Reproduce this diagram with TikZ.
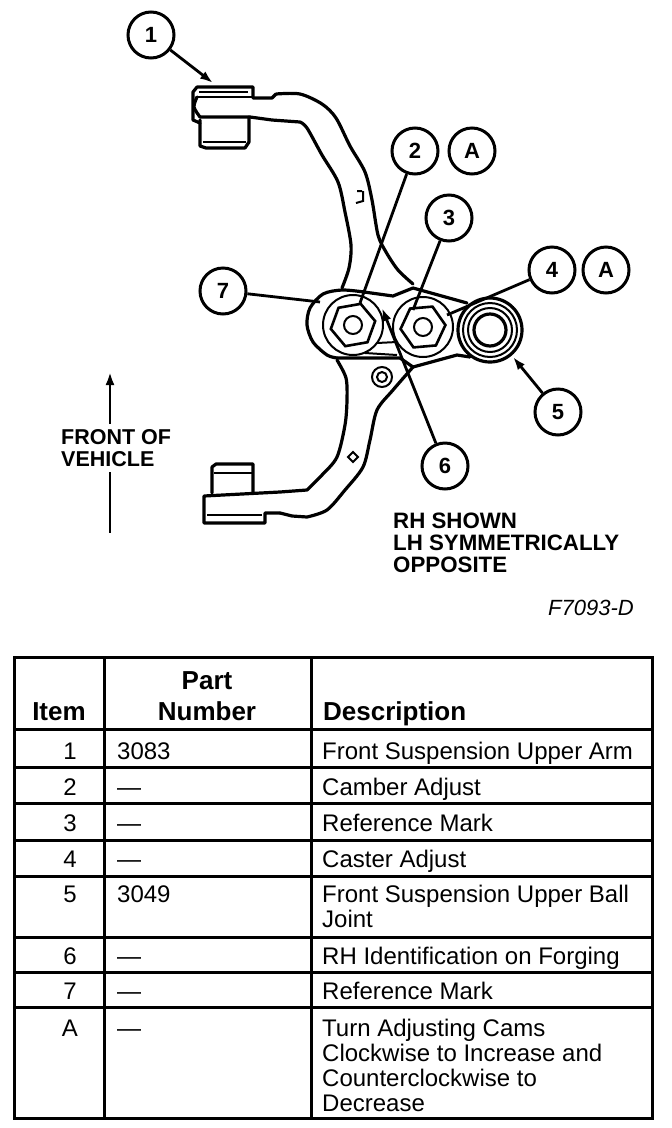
\documentclass[tikz,border=0pt]{standalone}
\usepackage{fontspec}
\setmainfont{Liberation Sans}
\usetikzlibrary{shapes.geometric,arrows.meta}
\tikzset{
  callout/.style={circle,draw,line width=3pt,minimum size=46pt,inner sep=0pt,font=\bfseries\fontsize{22}{22}\selectfont},
  leader/.style={line width=2.8pt},
  tipped/.style={leader,-{Latex[length=13pt,width=9pt]}},
  outline/.style={line width=3.2pt,line join=round,line cap=round},
  fine/.style={line width=2pt},
  hexnut/.style={regular polygon,regular polygon sides=6,draw,line width=2.6pt,minimum size=45pt,inner sep=0pt},
  rule/.style={line width=3pt,line cap=rect},
  cell/.style={anchor=base west,inner sep=0pt,font=\fontsize{24}{25}\selectfont},
  numcell/.style={anchor=base,inner sep=0pt,font=\fontsize{24}{25}\selectfont},
  headcell/.style={anchor=base,inner sep=0pt,font=\bfseries\fontsize{26}{30}\selectfont},
  caption/.style={anchor=base west,inner sep=0pt,font=\bfseries\fontsize{22.3}{22}\selectfont}
}
\begin{document}
\begin{tikzpicture}[x=1pt,y=-1pt]
  \useasboundingbox (0,0) rectangle (672,1128);

  % upper arm
  \draw[outline] (253,98) -- (272,98) -- (276,94) plot[smooth] coordinates {(276,94) (300,94) (322,104) (336,118) (350,146) (365,172) (372,200) (378,235) (386,252) (398,270) (413,284)};
  \draw[outline] plot[smooth] coordinates {(342,288) (349,268) (351,245) (345,212) (338,182) (322,155) (307,128) (300,122)} -- (272,120) -- (250,117) -- (200,117);
  \draw[outline] (253,97) -- (253,87) -- (197,87) -- (193,92) -- (193,120) -- (200,123);
  \draw[outline] plot[smooth] coordinates {(197,97) (194,107) (200,117)};
  \draw[fine] (199,92) -- (248,92) (197,97) -- (253,97);
  \draw[outline] (200,120) -- (200,146) -- (206,148) -- (245,148) -- (249,142) -- (249,117);
  \draw[fine] (203,142) -- (246,142);
  \draw[fine] (362,191) -- (357,191) (363,191) -- (363,201) -- (356,203);

  % plate
  \draw[outline] plot[smooth] coordinates {(364,292) (342,290) (323,294) (310,308) (307,325) (313,342) (327,355) (337,358)};
  \draw[outline] (337,358) -- (400,358) -- (413,367);
  \draw[fine] (365,353) -- (397,355) (377,343) -- (397,342);
  \draw[outline] (364,292) -- (393,296) -- (413,288) -- (467,303);
  \draw[outline] (413,367) -- (457,355) -- (470,357);
  \draw[fine] (353,325) circle (30pt) (423,327) circle (30pt);
  \node[hexnut,rotate=10] (nutL) at (353,325) {};
  \node[hexnut,rotate=5] (nutM) at (423,327) {};
  \draw[fine] (353,325) circle (9pt) (423,327) circle (9pt);

  % ball joint
  \draw[outline] (490,330) circle (32pt);
  \draw[fine] (490,330) circle (27pt) (490,330) circle (22pt);
  \draw[outline] (490,330) circle (16pt);

  % lower arm
  \draw[outline] plot[smooth] coordinates {(337,360) (346,378) (347,400) (345,425) (337,457) (322,475) (307,490)} -- (280,492) -- (204,496) -- (204,523) -- (265,523) -- (265,513) -- (280,513);
  \draw[outline] (280,513) -- (292,516) -- (307,517) plot[smooth] coordinates {(307,517) (327,510) (345,490) (363,467) (370,440) (377,410) (393,390) (413,367)};
  \draw[outline] (212,493) -- (212,467) -- (216,464) -- (253,464) -- (253,493);
  \draw[fine] (214,473) -- (252,473) (207,515) -- (262,515);
  \draw[fine] (382,377) circle (10pt) (382,377) circle (5pt);
  \draw[fine] (348,457) -- (353,452) -- (358,457) -- (353,462) -- cycle;

  % callouts
  \node[callout] (c1) at (151,35) {1};
  \node[callout] (c2) at (415,151) {2};
  \node[callout] (a2) at (472,151) {A};
  \node[callout] (c3) at (449,218) {3};
  \node[callout] (c4) at (552,270) {4};
  \node[callout] (a4) at (606,270) {A};
  \node[callout] (c5) at (558,412) {5};
  \node[callout] (c6) at (445,466) {6};
  \node[callout] (c7) at (223,291) {7};

  \coordinate (tip1) at (213,83);
  \coordinate (tip2) at (360,303);
  \coordinate (tip3) at (413,310);
  \coordinate (tip4) at (447,315);
  \coordinate (tip5) at (513,357);
  \coordinate (tip6) at (382,308);
  \coordinate (tip7) at (320,302);
  \draw[tipped] (c1) -- (tip1);
  \draw[leader] (c2) -- (tip2);
  \draw[leader] (c3) -- (tip3);
  \draw[leader] (c4) -- (tip4);
  \draw[tipped] (c5) -- (tip5);
  \draw[tipped] (c6) -- (tip6);
  \draw[leader] (c7) -- (tip7);

  % front of vehicle
  \node[caption,font=\bfseries\fontsize{21.5}{22}\selectfont] (front) at (61,444) {FRONT OF};
  \node[caption,font=\bfseries\fontsize{21.5}{22}\selectfont] (vehicle) at (61,466) {VEHICLE};
  \coordinate (arrowtop) at (110,372);
  \coordinate (arrowmid) at (110,424);
  \coordinate (arrowlow) at (110,472);
  \coordinate (arrowend) at (110,533);
  \draw[tipped] (arrowmid) -- (arrowtop);
  \draw[leader] (arrowlow) -- (arrowend);

  \node[caption] (rh) at (393,528) {RH SHOWN};
  \node[caption] (lh) at (393,550) {LH SYMMETRICALLY};
  \node[caption] (opp) at (393,572) {OPPOSITE};
  \node[anchor=base east,inner sep=0pt,font=\itshape\fontsize{22}{22}\selectfont] (fig) at (634,615) {F7093-D};

  % table
  \draw[rule] (14,657) rectangle (652,1118);
  \foreach \y in {729,767,803,840,876,937,972,1007} {
    \draw[rule] (14,\y) -- (652,\y);
  }
  \draw[rule] (104,657) -- (104,1118);
  \draw[rule] (311,657) -- (311,1118);

  \node[headcell] (hitem) at (59,720) {Item};
  \node[headcell] (hpart) at (207,689) {Part};
  \node[headcell] (hnum) at (207,720) {Number};
  \node[headcell,anchor=base west] (hdesc) at (323,720) {Description};

  \foreach \n/\i/\p/\d/\y in {
    r1/1/3083/Front Suspension Upper Arm/759,
    r2/2/---/Camber Adjust/795,
    r3/3/---/Reference Mark/831,
    r4/4/---/Caster Adjust/867,
    r5/5/3049/Front Suspension Upper Ball/902,
    r6/6/---/RH Identification on Forging/964,
    r7/7/---/Reference Mark/999,
    ra/A/---/Turn Adjusting Cams/1036} {
    \node[numcell] (\n i) at (70,\y) {\i};
    \node[cell] (\n p) at (117,\y) {\p};
    \node[cell] (\n d) at (322,\y) {\d};
  }
  \node[cell] (r5e) at (322,927) {Joint};
  \node[cell] (rab) at (322,1061) {Clockwise to Increase and};
  \node[cell] (rac) at (322,1086) {Counterclockwise to};
  \node[cell] (rad) at (322,1111) {Decrease};
\end{tikzpicture}
\end{document}
